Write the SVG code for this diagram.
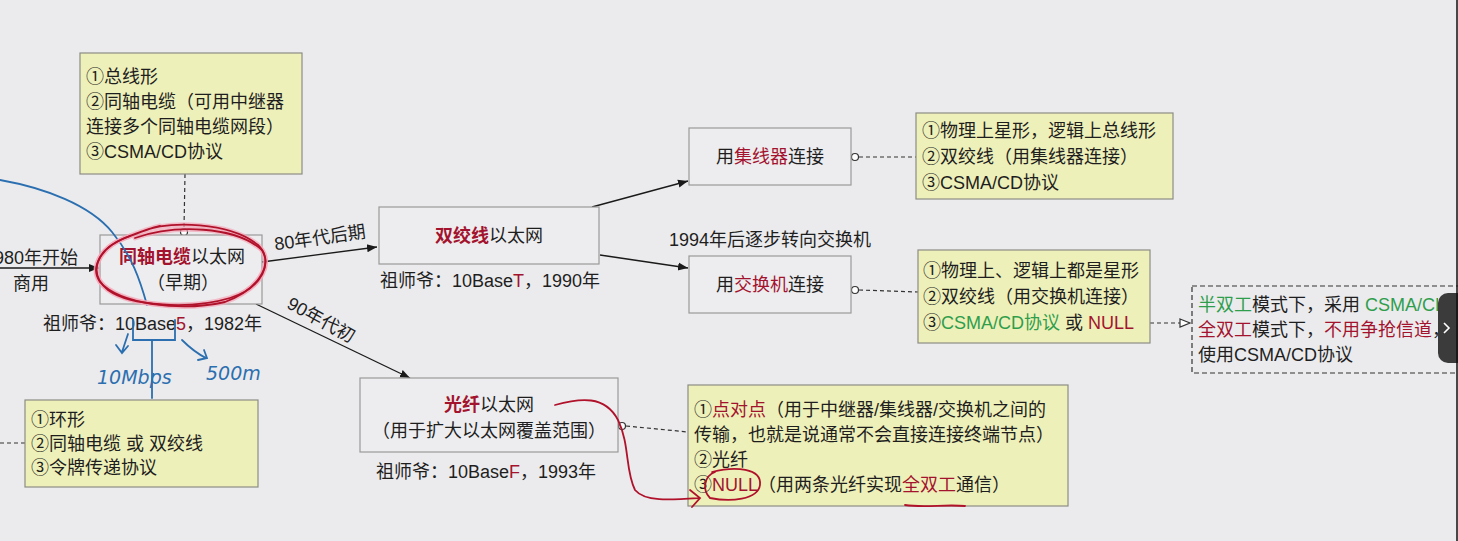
<svg xmlns="http://www.w3.org/2000/svg" width="1458" height="541" viewBox="0 0 1458 541">
<style>
text{font-family:"Liberation Sans","Noto Sans CJK SC",sans-serif;font-size:18px;fill:#1e1e1e}
.c{text-anchor:middle}
.r{fill:#a3132e}
.g{fill:#2e9e4c}
.box{fill:#ededef;stroke:#9a9a9a;stroke-width:1.2}
.note{fill:#eef0b9;stroke:#8c8c84;stroke-width:1.2}
.ln{stroke:#1a1a1a;stroke-width:1.3;fill:none}
.dl{stroke:#333;stroke-width:1.2;fill:none;stroke-dasharray:4 3}
.dot{fill:#fff;stroke:#333;stroke-width:1.2}
.hb{stroke:#2b6fb0;stroke-width:1.8;fill:none;stroke-linecap:round}
.hr{stroke:#b0122b;stroke-width:1.8;fill:none;stroke-linecap:round}
.hrg{stroke:#f3a6b8;stroke-width:5;fill:none;stroke-linecap:round;opacity:0.7}
.hand{font-family:"DejaVu Sans","Liberation Sans",sans-serif;font-style:italic;fill:#2b6fb0;font-size:19px}
</style>
<defs>
<marker id="ar" viewBox="0 0 10 10" refX="10" refY="5" markerWidth="10" markerHeight="10" markerUnits="userSpaceOnUse" orient="auto"><path d="M0,1 L10,5 L0,9 Z" fill="#1a1a1a"/></marker>
<marker id="op" viewBox="0 0 12 10" refX="12" refY="5" markerWidth="12" markerHeight="10" markerUnits="userSpaceOnUse" orient="auto"><path d="M1,1 L11,5 L1,9 Z" fill="#fff" stroke="#333" stroke-width="1.2"/></marker>
<clipPath id="clipR"><rect x="1190" y="280" width="248" height="100"/></clipPath>
</defs>
<rect width="1458" height="541" fill="#ebebed"/>

<g id="connectors">
<line class="ln" x1="0" y1="268" x2="99" y2="268" marker-end="url(#ar)"/>
<line class="ln" x1="262" y1="262" x2="377" y2="247" marker-end="url(#ar)"/>
<line class="ln" x1="256" y1="304" x2="410" y2="378" marker-end="url(#ar)"/>
<line class="ln" x1="592" y1="207" x2="688" y2="181" marker-end="url(#ar)"/>
<line class="ln" x1="600" y1="255" x2="688" y2="268" marker-end="url(#ar)"/>
<line class="dl" x1="185" y1="174" x2="184" y2="228"/>
<line class="dl" x1="859" y1="157" x2="916" y2="157"/>
<line class="dl" x1="859" y1="290" x2="918" y2="292"/>
<line class="dl" x1="626" y1="426" x2="688" y2="432"/>
<line class="dl" x1="0" y1="443" x2="25" y2="443"/>
<line class="dl" x1="1150" y1="323" x2="1191" y2="323" marker-end="url(#op)"/>
<circle class="dot" cx="184" cy="232" r="3.5"/>
<circle class="dot" cx="855" cy="157" r="3.5"/>
<circle class="dot" cx="855" cy="290" r="3.5"/>
<circle class="dot" cx="622" cy="426" r="3.5"/>
<text x="36" y="264" class="c">980年开始</text>
<text x="31" y="290" class="c">商用</text>
<text x="320" y="244" class="c" transform="rotate(-8 320 238)">80年代后期</text>
<text x="321" y="326" class="c" transform="rotate(29 321 320)">90年代初</text>
<text x="770" y="246" class="c">1994年后逐步转向交换机</text>
</g>

<g id="note-bus">
<rect class="note" x="80" y="53" width="222" height="121"/>
<text x="86" y="83">①总线形</text>
<text x="86" y="108">②同轴电缆（可用中继器</text>
<text x="86" y="133">连接多个同轴电缆网段）</text>
<text x="86" y="158">③CSMA/CD协议</text>
</g>

<g id="coax">
<rect class="box" x="100" y="235" width="162" height="69"/>
<text x="182" y="263" class="c"><tspan class="r" font-weight="bold">同轴电缆</tspan>以太网</text>
<text x="183" y="289" class="c">（早期）</text>
<text x="43" y="330">祖师爷：10Base<tspan class="r">5</tspan>，1982年</text>
</g>

<g id="note-ring">
<rect class="note" x="25" y="400" width="233" height="87"/>
<text x="31" y="426">①环形</text>
<text x="31" y="450">②同轴电缆 或 双绞线</text>
<text x="31" y="474">③令牌传递协议</text>
</g>

<g id="tp">
<rect class="box" x="379" y="207" width="220" height="57"/>
<text x="489" y="242" class="c"><tspan class="r" font-weight="bold">双绞线</tspan>以太网</text>
<text x="380" y="287">祖师爷：10Base<tspan class="r">T</tspan>，1990年</text>
</g>

<g id="hub">
<rect class="box" x="689" y="128" width="162" height="57"/>
<text x="770" y="163" class="c">用<tspan class="r">集线器</tspan>连接</text>
</g>

<g id="note-hub">
<rect class="note" x="916" y="113" width="257" height="86"/>
<text x="922" y="137">①物理上星形，逻辑上总线形</text>
<text x="922" y="163">②双绞线（用集线器连接）</text>
<text x="922" y="189">③CSMA/CD协议</text>
</g>

<g id="switch">
<rect class="box" x="689" y="256" width="162" height="57"/>
<text x="770" y="291" class="c">用<tspan class="r">交换机</tspan>连接</text>
</g>

<g id="note-switch">
<rect class="note" x="918" y="250" width="232" height="93"/>
<text x="923" y="277">①物理上、逻辑上都是星形</text>
<text x="923" y="303">②双绞线（用交换机连接）</text>
<text x="923" y="329">③<tspan class="g">CSMA/CD协议</tspan> 或 <tspan class="r">NULL</tspan></text>
</g>

<g id="fiber">
<rect class="box" x="360" y="378" width="258" height="74"/>
<text x="489" y="411" class="c"><tspan class="r" font-weight="bold">光纤</tspan>以太网</text>
<text x="489" y="437" class="c">（用于扩大以太网覆盖范围）</text>
<text x="376" y="478">祖师爷：10Base<tspan class="r">F</tspan>，1993年</text>
</g>

<g id="note-fiber">
<rect class="note" x="688" y="385" width="380" height="121"/>
<text x="694" y="416">①<tspan class="r">点对点</tspan>（用于中继器/集线器/交换机之间的</text>
<text x="694" y="441">传输，也就是说通常不会直接连接终端节点）</text>
<text x="694" y="466">②光纤</text>
<text x="694" y="491">③<tspan class="r">NULL</tspan>（用两条光纤实现<tspan class="r">全双工</tspan>通信）</text>
</g>

<g id="note-duplex">
<rect x="1192" y="286" width="280" height="87" fill="none" stroke="#333" stroke-width="1.2" stroke-dasharray="5 3"/>
<g clip-path="url(#clipR)">
<text x="1198" y="311"><tspan class="g">半双工</tspan>模式下，采用 <tspan class="g">CSMA/CD</tspan></text>
<text x="1198" y="336"><tspan class="r">全双工</tspan>模式下，<tspan class="r">不用争抢信道</tspan>，</text>
</g>
<text x="1198" y="361">使用CSMA/CD协议</text>
</g>

<g id="ui-overlay">
<rect x="1438" y="293" width="30" height="70" rx="10" fill="#3b3b3b"/>
<path d="M1444,323 L1449,328 L1444,333" fill="none" stroke="#fff" stroke-width="1.6"/>
<line x1="1457" y1="0" x2="1457" y2="541" stroke="#111" stroke-width="1.5"/>
</g>

<g id="annotations">
<path class="hb" d="M0,180 C45,188 90,205 112,232 C132,256 140,280 147,305"/>
<path class="hb" d="M133,320 L133,340 L175,340 L175,320"/>
<path class="hb" d="M128,334 C126,340 124,346 122,352 M116,345 L122,353 L128,346"/>
<path class="hb" d="M182,340 C190,348 198,354 206,358 M198,360 L207,358 L204,350"/>
<path class="hb" d="M152,340 L152,398"/>
<text class="hand" x="97" y="384">10Mbps</text>
<text class="hand" x="206" y="380">500m</text>
<path class="hrg" d="M140,232 C170,220 230,222 258,245 C275,262 262,288 230,298 C190,310 130,306 108,290 C88,274 95,250 125,238 C140,232 150,228 160,226"/>
<path class="hrg" d="M135,238 C175,224 235,226 262,250 C272,266 258,290 225,302 C180,312 120,304 100,282 C90,268 100,246 130,236"/>
<path class="hr" d="M140,232 C170,220 230,222 258,245 C275,262 262,288 230,298 C190,310 130,306 108,290 C88,274 95,250 125,238 C140,232 150,228 160,226"/>
<path class="hr" d="M135,238 C175,224 235,226 262,250 C272,266 258,290 225,302 C180,312 120,304 100,282 C90,268 100,246 130,236"/>
<path class="hr" d="M555,405 C580,398 605,395 618,420 C630,445 625,470 635,490 C645,502 670,500 700,498 M690,490 L700,498 L692,507"/>
<path class="hr" d="M712,472 C735,466 762,468 760,485 C758,500 730,502 710,498 C702,490 704,476 715,472"/>
<path class="hr" d="M905,505 C925,508 945,504 965,506"/>
</g>
</svg>
